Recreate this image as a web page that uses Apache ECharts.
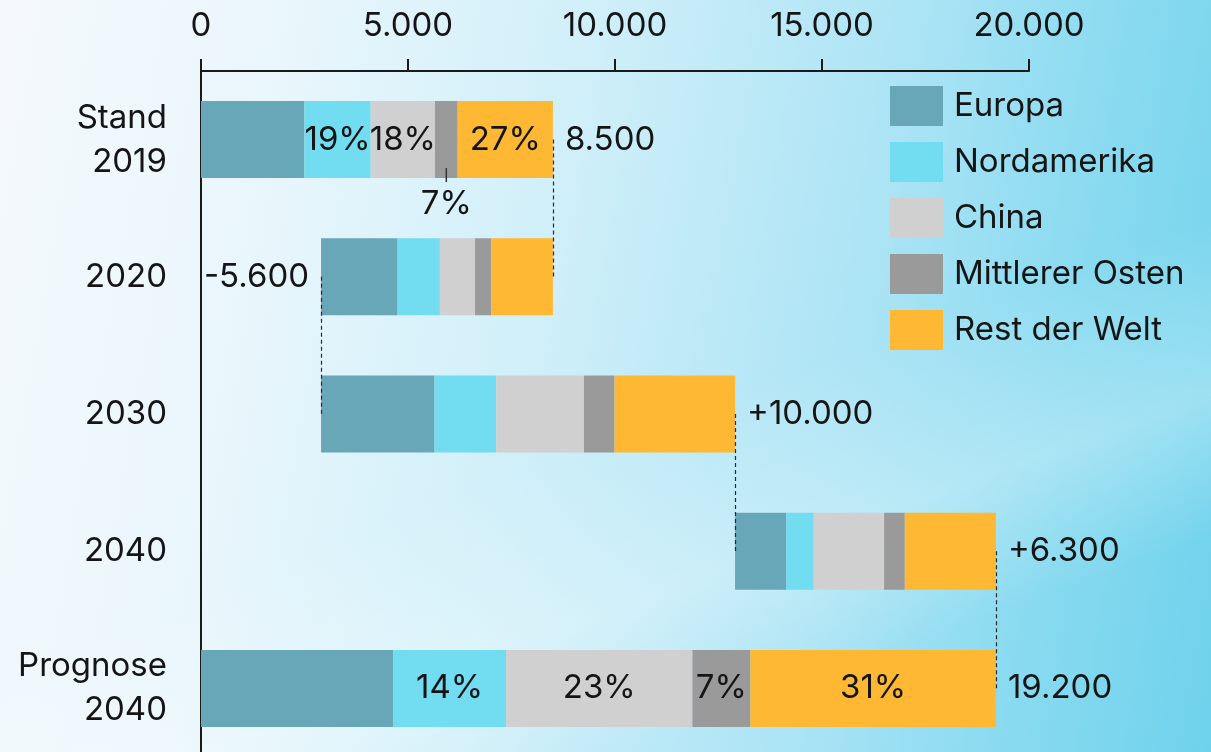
<!DOCTYPE html>
<html><head><meta charset="utf-8">
<script src="https://cdn.jsdelivr.net/npm/echarts@6/dist/echarts.min.js"></script>
<style>
html,body{margin:0;padding:0;width:1211px;height:752px;overflow:hidden;}
body{
 background:
  linear-gradient(160deg, rgba(255,255,255,0) 55%, rgba(255,255,255,0.28) 70%, rgba(255,255,255,0) 82%),
  linear-gradient(100deg, #f5f9fd 0%, #e9f6fc 22%, #cfeff9 45%, #ace4f5 68%, #88daf0 85%, #6fd2ec 100%);
}
#chart{width:1211px;height:752px;}
</style></head><body><div id="chart"></div>
<script>
const categories = ['Stand\n2019', '2020', '2030', '2040', 'Prognose\n2040'];
const baseValues = [0, 2900, 2900, 12900, 0];
const europa = [2500, 1850, 2740, 1240, 4640];
const nordamerika = [1600, 1020, 1490, 660, 2730];
const china = [1550, 850, 2120, 1700, 4500];
const mittlererOsten = [550, 390, 740, 500, 1400];
const restDerWelt = [2300, 1490, 2910, 2200, 5930];
const shareEuropa = ['', '', '', '', ''];
const shareNordamerika = ['19%', '', '', '', '14%'];
const shareChina = ['18%', '', '', '', '23%'];
const shareMittlererOsten = ['7%', '', '', '', '7%'];
const shareRest = ['27%', '', '', '', '31%'];
const totalLabels = ['8.500', '-5.600', '+10.000', '+6.300', '19.200'];
const seriesNames = ['Europa', 'Nordamerika', 'China', 'Mittlerer Osten', 'Rest der Welt'];
const xMin = 0, xMax = 20000, xStep = 5000;

const FONT = 'Inter';
const TEXT = '#151515';
const FS = 33;
const colors = ['#68a7b8', '#72dcf0', '#d0d0d0', '#9a9a9a', '#feb833'];
const segs = [europa, nordamerika, china, mittlererOsten, restDerWelt];
const shares = [shareEuropa, shareNordamerika, shareChina, shareMittlererOsten, shareRest];

const gridLeft = 201, gridRight = 182;
const pxPerUnit = (1211 - gridLeft - gridRight) / (xMax - xMin);

const sums = categories.map((c, i) => segs.reduce((a, s) => a + s[i], 0));
const starts = baseValues.slice();
const ends = categories.map((c, i) => baseValues[i] + sums[i]);
const negative = totalLabels.map(t => t.startsWith('-'));
const anchors = categories.map((c, i) => negative[i] ? starts[i] : ends[i]);

const connectors = [];
for (let i = 0; i < categories.length - 1; i++) {
  const a = [starts[i], ends[i]], b = [starts[i + 1], ends[i + 1]];
  const x = a.find(v => b.includes(v));
  if (x !== undefined) connectors.push([{ coord: [x, i] }, { coord: [x, i + 1] }]);
}

const fmt = v => String(v).replace(/\B(?=(\d{3})+(?!\d))/g, '.');

const series = [{
  name: 'base', type: 'bar', stack: 'total', barWidth: 77, silent: true, z: 1,
  itemStyle: { color: 'transparent' },
  data: baseValues,
  markLine: {
    silent: true, symbol: 'none', label: { show: false },
    lineStyle: { color: '#2a2a2a', width: 1.2, type: [4, 3] },
    data: connectors
  }
}];
segs.forEach((arr, k) => {
  series.push({
    name: seriesNames[k], type: 'bar', stack: 'total', barWidth: 77, z: 2,
    itemStyle: { color: colors[k] },
    data: arr.map((v, i) => {
      const s = shares[k][i];
      if (!s) return { value: v, label: { show: false } };
      if (v * pxPerUnit < 40) {
        return { value: v, label: {
          show: true, position: 'bottom', distance: -10,
          formatter: '{ln|}\n{t|' + s + '}',
          rich: {
            ln: { width: 1.5, height: 14, backgroundColor: '#333' },
            t: { fontSize: FS, fontFamily: FONT, color: TEXT, lineHeight: 40, padding: [3, 0, 0, 0] }
          }
        } };
      }
      return { value: v, label: { show: true, position: 'inside', formatter: s,
        fontSize: FS, fontFamily: FONT, color: TEXT } };
    })
  });
});
series.push({
  name: 'totals', type: 'bar', barWidth: 77, barGap: '-100%', silent: true, z: 3,
  itemStyle: { color: 'transparent' },
  data: anchors.map((v, i) => ({
    value: v,
    label: { show: true, position: negative[i] ? 'insideRight' : 'right', distance: 12,
      formatter: totalLabels[i], fontSize: FS, fontFamily: FONT, color: TEXT }
  }))
});

const chart = echarts.init(document.getElementById('chart'), null, { renderer: 'canvas' });
chart.setOption({
  animation: false,
  textStyle: { fontFamily: FONT },
  grid: { left: gridLeft, right: gridRight, top: 71, height: 686, containLabel: false, outerBoundsMode: 'none' },
  legend: {
    data: seriesNames, orient: 'vertical', left: 890, top: 86, padding: 0,
    itemWidth: 53, itemHeight: 40, itemGap: 16, icon: 'rect',
    textStyle: { fontSize: FS, fontFamily: FONT, color: TEXT, padding: [0, 0, 0, 6] }
  },
  xAxis: {
    type: 'value', position: 'top', min: xMin, max: xMax, interval: xStep,
    axisLine: { show: true, lineStyle: { color: '#1a1a1a', width: 2 } },
    axisTick: { show: true, length: 12, lineStyle: { color: '#1a1a1a', width: 2 } },
    splitLine: { show: false },
    axisLabel: { fontSize: FS, fontFamily: FONT, color: TEXT, margin: 28, formatter: fmt }
  },
  yAxis: {
    type: 'category', inverse: true, data: categories,
    axisLine: { show: true, lineStyle: { color: '#1a1a1a', width: 2 } },
    axisTick: { show: false },
    axisLabel: { fontSize: FS, fontFamily: FONT, color: TEXT, margin: 34, lineHeight: 44, align: 'right' }
  },
  series: series
});
</script></body></html>
